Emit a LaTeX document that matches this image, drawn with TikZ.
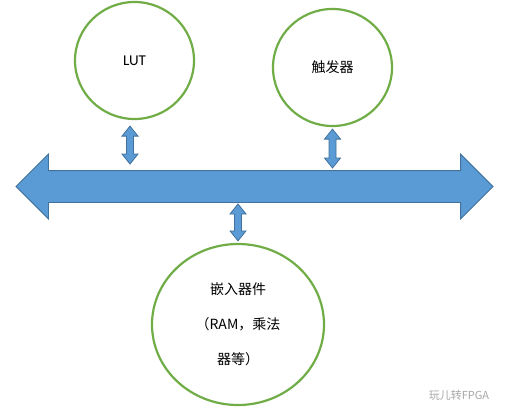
\documentclass[tikz,border=0pt]{standalone}
\usepackage{fontspec}
\setmainfont{Carlito}
\newfontfamily\cjk{Noto Sans CJK SC}
\usetikzlibrary{positioning,calc,shapes.geometric,shapes.arrows}
\definecolor{busblue}{RGB}{91,155,213}
\definecolor{busline}{RGB}{65,113,156}
\definecolor{ringgreen}{RGB}{112,173,71}

\begin{document}
\begin{tikzpicture}[
		x=1pt, y=-1pt,
		unit/.style={
			draw=ringgreen,
			line width=2.2pt,
			ellipse,
			inner sep=0pt,
			align=center
		},
		link/.style={
			draw=busline,
			fill=busblue,
			line width=0.8pt,
			to path={let \p1=(\tikztostart), \p2=(\tikztotarget) in
				(\x1,\y1) -- (\x1+8pt,\y1-10pt) -- (\x1+3.5pt,\y1-10pt)
				-- (\x1+3.5pt,\y2+10pt) -- (\x1+8pt,\y2+10pt) -- (\x1,\y2)
				-- (\x1-8pt,\y2+10pt) -- (\x1-3.5pt,\y2+10pt)
				-- (\x1-3.5pt,\y1-10pt) -- (\x1-8pt,\y1-10pt) -- cycle}
		}
		]
		\useasboundingbox (0,0) rectangle (508,415);
		
		\node[double arrow, draw=busline, fill=busblue, line width=0.8pt,
			minimum height=477pt, inner xsep=0pt, inner ysep=15.5pt,
			double arrow head extend=16.5pt] (bus) at (254.5,186.5) {};
		
		\node[unit, minimum width=119pt, minimum height=117pt,
			font=\fontsize{15}{15}\selectfont] (lut) at (134.5,60.5) {LUT};
		
		\node[unit, minimum width=119pt, minimum height=117pt,
			font=\cjk\fontsize{14}{14}\selectfont] (trig) at (332.5,67.5) {触发器};
		
		\node[unit, minimum width=172pt, minimum height=161pt,
			font=\cjk\fontsize{14}{35}\selectfont] (embed) at (238,324.5) {嵌入器件\\（RAM，乘法\\器等）};
		
		\node[text=black!35, font=\cjk\fontsize{11}{11}\selectfont] (mark) at (459,395) {玩儿转FPGA};
		
		\draw[link] ([xshift=-4.5pt,yshift=-6pt]lut.south) to ([yshift=22.5pt]bus.center -| lut.south);
		\draw[link] ([yshift=-2pt]trig.south) to ([yshift=18.5pt]bus.center -| trig.south);
		\draw[link] ([yshift=-17.5pt]bus.center -| embed.north) to ([yshift=2pt]embed.north);
		
	\end{tikzpicture}
\end{document}
